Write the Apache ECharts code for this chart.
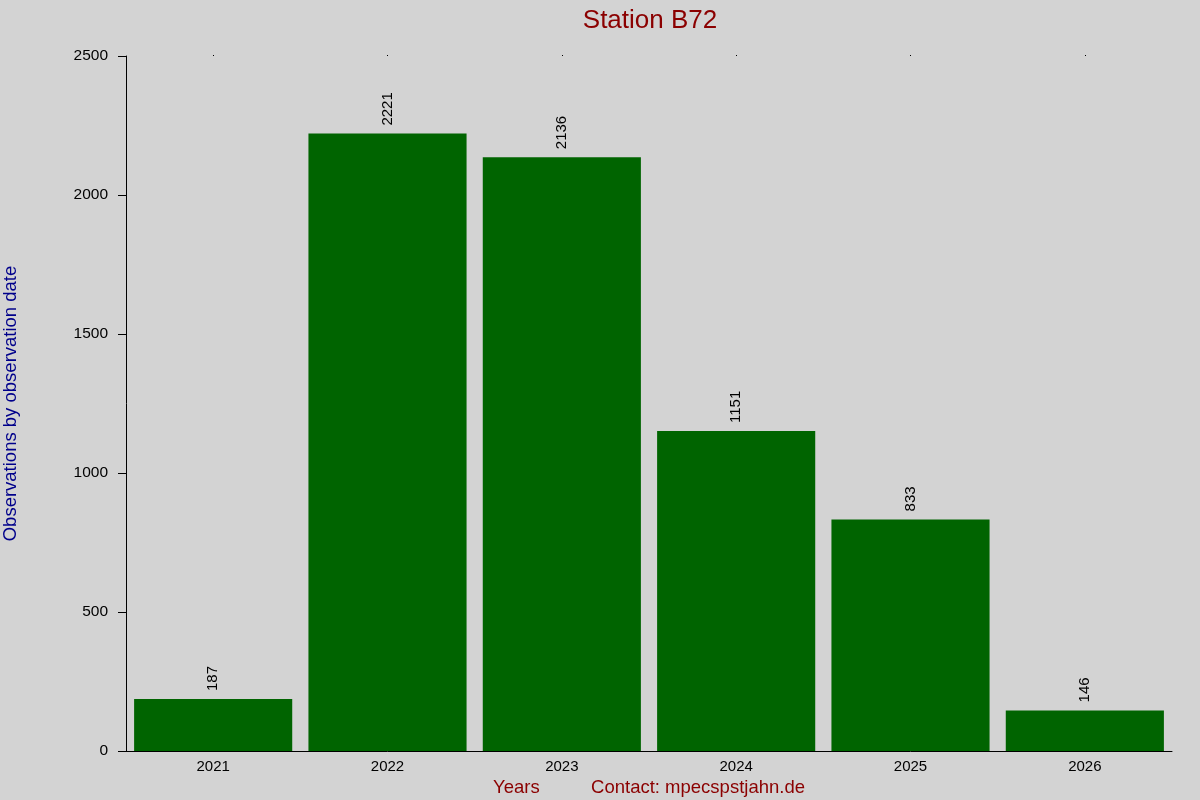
<!DOCTYPE html>
<html>
<head>
<meta charset="utf-8">
<script src="https://cdn.jsdelivr.net/npm/echarts@6/dist/echarts.min.js"></script>
<style>
html,body{margin:0;padding:0;background:#d3d3d3;}
#chart{width:1200px;height:800px;}
</style>
</head>
<body>
<div id="chart"></div>
<script>
const categories = ['2021','2022','2023','2024','2025','2026'];
const observations = [187, 2221, 2136, 1151, 833, 146];
const yTicks = [0, 500, 1000, 1500, 2000, 2500];

const chart = echarts.init(document.getElementById('chart'));
const font = 'Liberation Sans, Arial, sans-serif';
chart.setOption({
  backgroundColor: '#d3d3d3',
  animation: false,
  title: {
    text: 'Station B72',
    left: 645, top: 3, textAlign: 'center',
    textStyle: {color: '#8b0000', fontSize: 26, fontWeight: 'normal', fontFamily: font}
  },
  grid: {left: 126, right: 28, top: 56, bottom: 49, containLabel: false, outerBoundsMode: 'none'},
  xAxis: [{
    type: 'category',
    data: categories,
    position: 'bottom',
    axisLine: {lineStyle: {color: '#000', width: 1}},
    axisTick: {show: false},
    axisLabel: {color: '#000', fontSize: 15, margin: 8, fontFamily: font},
    name: 'Years          Contact: mpecspstjahn.de',
    nameLocation: 'middle',
    nameGap: 26,
    nameTextStyle: {color: '#8b0000', fontSize: 18.5, fontFamily: font, verticalAlign: 'top'}
  }, {
    type: 'category',
    data: categories,
    position: 'top',
    axisLine: {show: false},
    axisTick: {show: true, alignWithLabel: true, length: 1, lineStyle: {color: '#000'}},
    axisLabel: {show: false}
  }],
  yAxis: {
    type: 'value',
    min: yTicks[0], max: yTicks[yTicks.length - 1], interval: 500,
    axisLine: {show: true, lineStyle: {color: '#000', width: 1}},
    axisTick: {show: true, length: 8, lineStyle: {color: '#000'}},
    axisLabel: {color: '#000', fontSize: 15.5, margin: 18, fontFamily: font, formatter: v => String(v)},
    splitLine: {show: false},
    name: 'Observations by observation date',
    nameLocation: 'middle',
    nameRotate: 90,
    nameGap: 106,
    nameTextStyle: {color: '#00008b', fontSize: 18.5, fontFamily: font}
  },
  series: [{
    type: 'bar',
    data: observations,
    barCategoryGap: '9.3%',
    itemStyle: {color: '#006400'},
    label: {
      show: true, position: 'top', rotate: 90, distance: 8,
      align: 'left', verticalAlign: 'middle',
      color: '#000', fontSize: 15, fontFamily: font
    }
  }]
});
</script>
</body>
</html>
